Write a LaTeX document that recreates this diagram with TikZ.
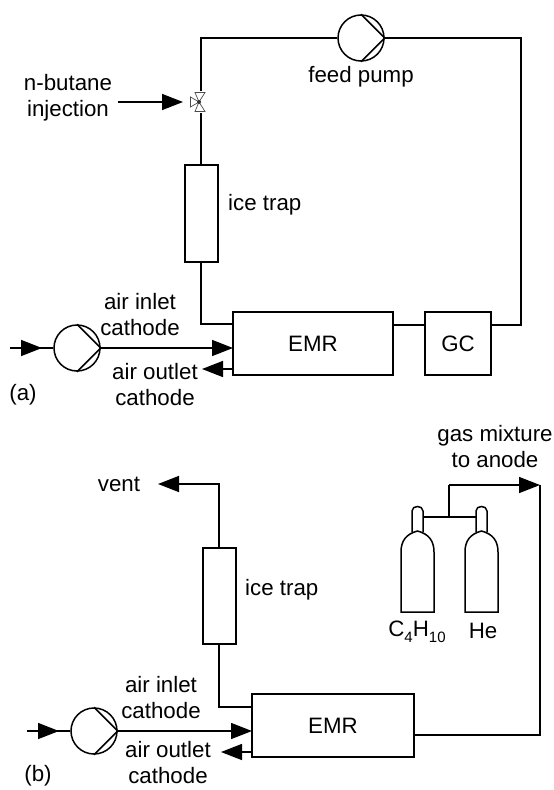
\documentclass[tikz,border=0pt]{standalone}
\usepackage{fontspec}
\setmainfont{Liberation Sans}
\usetikzlibrary{arrows.meta,calc}

\newcommand{\pumpmark}[1]{\draw[pipe] (#1.north) -- (#1.east) -- (#1.south);}
\newcommand{\subnum}[1]{\raisebox{-6pt}{\fontsize{15}{15}\selectfont #1}}
% bottle drawn from its lower left corner
\newcommand{\gasbottle}[2]{
    \draw[pipe] (#1,612) -- (#1,552) .. controls (#1,541) and (#1+5,534) .. (#1+16.5,531)
        .. controls (#1+28,534) and (#1+33,541) .. (#1+33,552) -- (#1+33,612) -- cycle;
    \draw[pipe] (#1+11,532) -- (#1+11,511) .. controls (#1+11,505) and (#1+22,505) .. (#1+22,511) -- (#1+22,532);
    \coordinate (#2) at (#1+16.5,517);
}

\begin{document}
\begin{tikzpicture}[x=1pt,y=-1pt,
            font=\fontsize{22.3}{26}\selectfont,
            pipe/.style={line width=1.5pt,black},
            flow/.style={pipe,-{Triangle[length=21pt,width=16pt]}},
            unit/.style={draw,pipe,inner sep=0pt},
            pump/.style={draw,pipe,circle,inner sep=0pt,minimum size=46pt},
            valvepart/.style={line width=0.7pt,black!70},
            lbl/.style={align=center,inner sep=0pt},
        ]
        \useasboundingbox (0,0) rectangle (554,790);

        % (a)
        \node[pump] (feed) at (361,38) {};
        \pumpmark{feed}
        \node[pump] (pumpa) at (77,348) {};
        \pumpmark{pumpa}
        \node[unit,minimum width=33pt,minimum height=97pt] (icea) at (201.5,213.5) {};
        \node[unit,minimum width=160pt,minimum height=63pt] (emra) at (313,343.5) {EMR};
        \node[unit,minimum width=66pt,minimum height=63pt] (gc) at (458,343.5) {GC};
        \coordinate (valve) at (199,102);
        \coordinate (topleft) at (201,38);
        \coordinate (topright) at (521,38);
        \coordinate (gcright) at (521,325);
        \coordinate (trapa) at (201,324);
        \coordinate (emrain) at (233,324);
        \coordinate (inja) at (118,102);
        \coordinate (injtip) at (183,102);
        \coordinate (ina) at (10,348);
        \coordinate (inatip) at (42,348);
        \coordinate (emraair) at (233,348);
        \coordinate (emraout) at (233,369);
        \coordinate (outatip) at (202,369);

        \draw[pipe] (feed.west) -- (topleft) -- (icea.north -| topleft);
        \draw[pipe] (feed.east) -- (topright) -- (gcright) -- (gc.east |- gcright);
        \draw[pipe] (emra.east |- gcright) -- (gc.west |- gcright);
        \draw[pipe] (icea.south -| trapa) -- (trapa) -- (emrain);
        \draw[flow] (inja) -- (injtip);
        \draw[pipe] (ina) -- (pumpa.west);
        \draw[flow] (ina) -- (inatip);
        \draw[flow] (pumpa.east) -- (emraair);
        \draw[flow] (emraout) -- (outatip);

        % valve
        \fill[white] (189,91) rectangle (207,113);
        \draw[valvepart] (199,102) -- (195,92.5) -- (205,92.5) -- cycle;
        \draw[valvepart] (199,102) -- (195,111.5) -- (205,111.5) -- cycle;
        \draw[valvepart] (199,102) -- (190.5,97) -- (190.5,107) -- cycle;
        \fill[black!80] (valve) circle (2pt);

        \node[lbl] (butane) at (68,98) {n-butane\\injection};
        \node[lbl] (feedlbl) at (361,77) {feed pump};
        \node[lbl,anchor=west] (icealbl) at (228,205) {ice trap};
        \node[lbl] (inlbla) at (140,315) {air inlet\\cathode};
        \node[lbl] (outlbla) at (155,385) {air outlet\\cathode};
        \node[lbl] (taga) at (23,395) {(a)};

        % (b)
        \node[pump] (pumpb) at (94,731) {};
        \pumpmark{pumpb}
        \node[unit,minimum width=33pt,minimum height=96pt] (iceb) at (219.5,596) {};
        \node[unit,minimum width=162pt,minimum height=63pt] (emrb) at (333,725.5) {EMR};
        \coordinate (ventend) at (158,484);
        \coordinate (ventup) at (219,484);
        \coordinate (trapb) at (219,707);
        \coordinate (emrbin) at (252,707);
        \coordinate (inb) at (27,731);
        \coordinate (inbtip) at (59,731);
        \coordinate (emrbair) at (252,731);
        \coordinate (emrbout) at (252,752);
        \coordinate (outbtip) at (221,752);
        \coordinate (emrbright) at (540,735);
        \coordinate (emrbexit) at (414,735);
        \coordinate (mixright) at (540,485);
        \coordinate (mixleft) at (449,485);

        \draw[flow] (iceb.north -| ventup) -- (ventup) -- (ventend);
        \draw[pipe] (iceb.south -| trapb) -- (trapb) -- (emrbin);
        \draw[pipe] (inb) -- (pumpb.west);
        \draw[flow] (inb) -- (inbtip);
        \draw[flow] (pumpb.east) -- (emrbair);
        \draw[flow] (emrbout) -- (outbtip);
        \draw[pipe] (emrbexit) -- (emrbright) -- (mixright);

        \gasbottle{401}{neckfuel}
        \gasbottle{465}{neckhe}
        \coordinate (branch) at (449,517);
        \draw[pipe] ($(neckfuel)+(5.5,0)$) -- ($(neckhe)+(-5.5,0)$);
        \draw[pipe] (branch) -- (mixleft);
        \draw[flow] (mixleft) -- (mixright);

        \node[lbl] (ventlbl) at (119,484) {vent};
        \node[lbl,anchor=west] (iceblbl) at (245,590) {ice trap};
        \node[lbl] (mixlbl) at (495,447) {gas mixture\\to anode};
        \node[lbl] (fuellbl) at (417,632) {C\subnum{4}H\subnum{10}};
        \node[lbl] (helbl) at (483,631) {He};
        \node[lbl] (inlblb) at (161,698) {air inlet\\cathode};
        \node[lbl] (outlblb) at (168,763) {air outlet\\cathode};
        \node[lbl] (tagb) at (38,776) {(b)};
    \end{tikzpicture}
\end{document}
